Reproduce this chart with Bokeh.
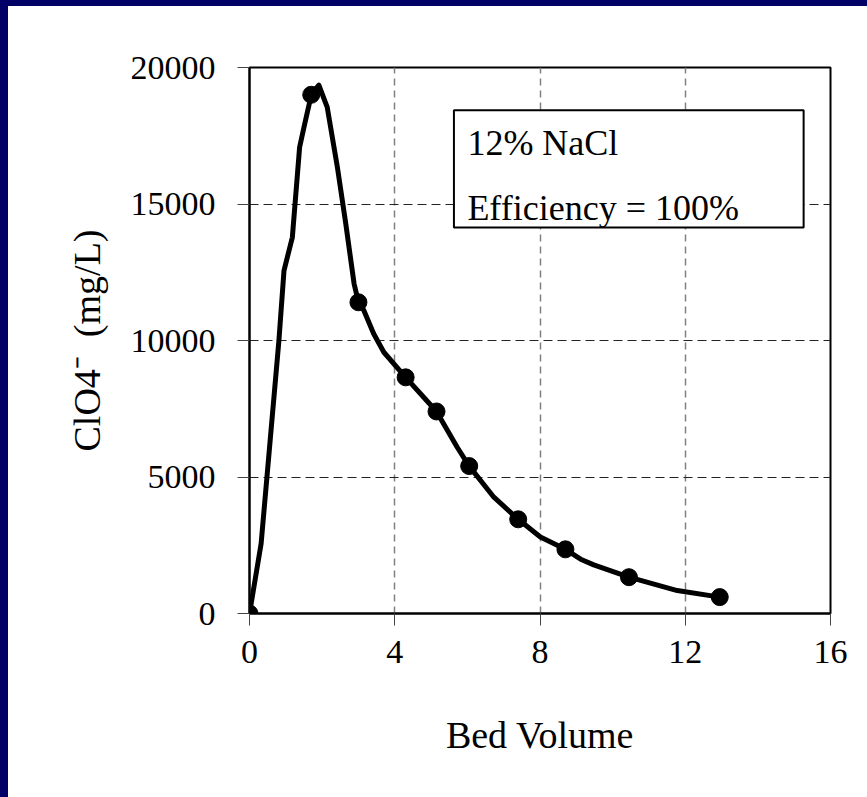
from bokeh.plotting import figure
from bokeh.models import (Range1d, FixedTicker, BoxAnnotation, Label, Spacer)
from bokeh.layouts import row, column
from bokeh.embed import file_html
from bokeh.resources import INLINE

# Elution profile: perchlorate concentration vs. bed volumes of regenerant
sample_bv = [0, 1.7, 3.0, 4.3, 5.15, 6.05, 7.4, 8.7, 10.45, 12.95]
sample_clo4 = [0, 19000, 11400, 8650, 7400, 5400, 3450, 2350, 1330, 600]

# Smoothed elution curve
curve_bv = [0, 0.32, 0.81, 0.95, 1.18, 1.38, 1.50, 1.71, 1.91, 2.14, 2.42,
            2.65, 2.88, 3.0, 3.15, 3.42, 3.70, 4.3, 4.71, 5.15, 5.72, 6.05,
            6.73, 7.4, 8.01, 8.7, 9.12, 9.48, 10.45, 11.78, 12.95]
curve_clo4 = [0, 2560, 10000, 12560, 13780, 17080, 17810, 19050, 19350, 18550,
              16350, 14290, 12080, 11400, 11100, 10250, 9570, 8650, 8050, 7400,
              6090, 5400, 4260, 3450, 2800, 2350, 1990, 1780, 1330, 840, 600]

x_ticks = [0, 4, 8, 12, 16]
y_ticks = [0, 5000, 10000, 15000, 20000]

note_lines = ["12% NaCl", "Efficiency = 100%"]

FONT = "Liberation Serif"
NAVY = "#000066"

p = figure(width=859, height=791, output_backend="svg", toolbar_location=None,
           x_range=Range1d(0, 16), y_range=Range1d(0, 20000),
           min_border_left=241, min_border_right=37,
           min_border_top=61, min_border_bottom=184)
p.background_fill_color = "white"
p.border_fill_color = "white"
p.outline_line_color = "black"
p.outline_line_width = 2

# axes
for ax in (p.xaxis[0], p.yaxis[0]):
    ax.axis_line_color = "black"
    ax.axis_line_width = 2
    ax.major_tick_line_color = "#444444"
    ax.major_tick_line_width = 1
    ax.major_tick_out = 12
    ax.major_tick_in = 0
    ax.minor_tick_line_color = None
    ax.major_label_text_font = FONT
    ax.major_label_text_font_size = "34px"
    ax.major_label_text_color = "black"
    ax.axis_label_text_font = FONT
    ax.axis_label_text_font_size = "38px"
    ax.axis_label_text_font_style = "normal"
    ax.axis_label_text_color = "black"

p.xaxis.ticker = FixedTicker(ticks=x_ticks)
p.yaxis.ticker = FixedTicker(ticks=y_ticks)
p.xaxis.major_label_standoff = 15
p.yaxis.major_label_standoff = 22
p.xaxis.axis_label = "Bed Volume"
p.yaxis.axis_label = "ClO4\u207b\u00a0\u00a0(mg/L)"
p.xaxis.axis_label_standoff = 48
p.yaxis.axis_label_standoff = 20

# grid
p.xgrid.ticker = FixedTicker(ticks=x_ticks)
p.ygrid.ticker = FixedTicker(ticks=y_ticks)
p.xgrid.grid_line_color = "#808080"
p.xgrid.grid_line_width = 1.5
p.xgrid.grid_line_dash = "7 5"
p.ygrid.grid_line_color = "#222222"
p.ygrid.grid_line_width = 1.2
p.ygrid.grid_line_dash = "9 5"

# data
p.line(curve_bv, curve_clo4, line_color="black", line_width=5,
       line_join="round", line_cap="round")
p.scatter(sample_bv, sample_clo4, size=17, fill_color="black",
          line_color="black")

# annotation box
box = BoxAnnotation(left=5.63, right=15.26, bottom=14140, top=18430,
                    fill_color="white", fill_alpha=1.0,
                    line_color="black", line_alpha=1.0, line_width=2,
                    level="annotation")
p.add_layout(box)
p.add_layout(Label(x=6.0, y=17220, text=note_lines[0], text_font=FONT,
                   text_font_size="36px", text_color="black",
                   text_baseline="alphabetic"))
p.add_layout(Label(x=6.0, y=14870, text=note_lines[1], text_font=FONT,
                   text_font_size="36px", text_color="black",
                   text_baseline="alphabetic"))

left_bar = Spacer(width=8, height=797, styles={"background-color": NAVY})
top_bar = Spacer(width=859, height=6, styles={"background-color": NAVY})
page = row(left_bar, column(top_bar, p, spacing=0), spacing=0)

open("out.html", "w").write(file_html(page, INLINE))
